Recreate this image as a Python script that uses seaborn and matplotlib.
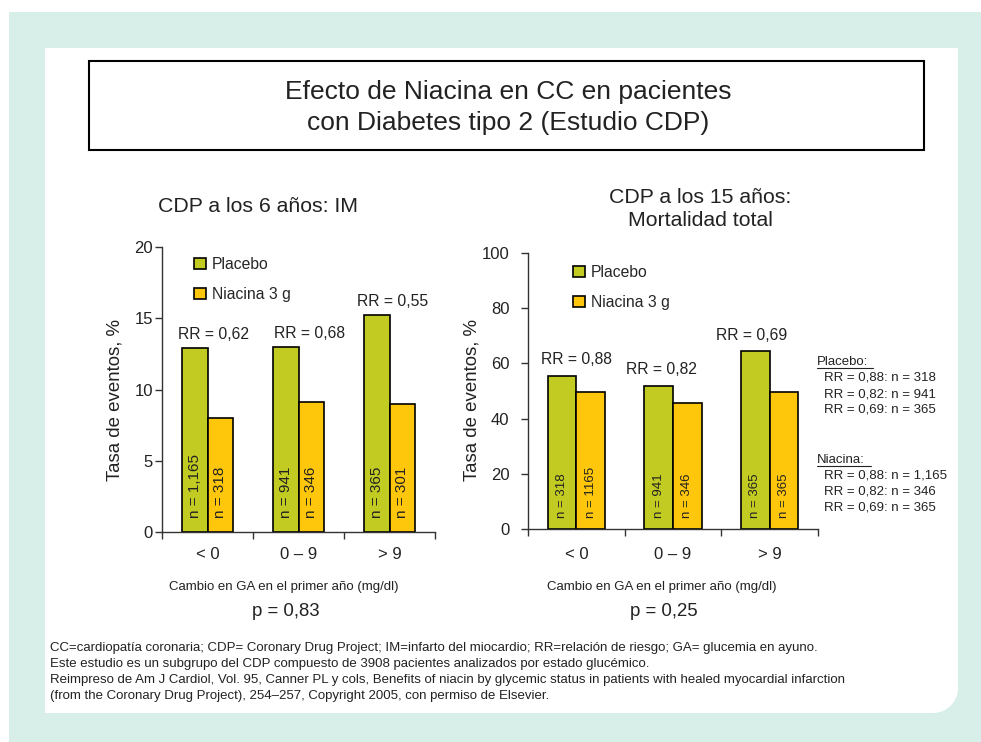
import numpy as np
import pandas as pd
import matplotlib.pyplot as plt
import seaborn as sns
from matplotlib.patches import Rectangle, Ellipse, Patch
from matplotlib.lines import Line2D

# data
cambio = ["< 0", "0 – 9", "> 9"]
grupos = ["Placebo", "Niacina 3 g"]

placebo_6 = [12.9, 13.0, 15.2]
niacina_6 = [8.0, 9.1, 9.0]
n_placebo_6 = ["n = 1,165", "n = 941", "n = 365"]
n_niacina_6 = ["n = 318", "n = 346", "n = 301"]
rr_6 = ["RR = 0,62", "RR = 0,68", "RR = 0,55"]

placebo_15 = [55.5, 51.9, 64.4]
niacina_15 = [49.5, 45.5, 49.5]
n_placebo_15 = ["n = 318", "n = 941", "n = 365"]
n_niacina_15 = ["n = 1165", "n = 346", "n = 365"]
rr_15 = ["RR = 0,88", "RR = 0,82", "RR = 0,69"]

notas_placebo = ["RR = 0,88: n = 318", "RR = 0,82: n = 941", "RR = 0,69: n = 365"]
notas_niacina = ["RR = 0,88: n = 1,165", "RR = 0,82: n = 346", "RR = 0,69: n = 365"]

pie = ["CC=cardiopatía coronaria; CDP= Coronary Drug Project; IM=infarto del miocardio; "
       "RR=relación de riesgo; GA= glucemia en ayuno.",
       "Este estudio es un subgrupo del CDP compuesto de 3908 pacientes analizados por estado glucémico.",
       "Reimpreso de Am J Cardiol, Vol. 95, Canner PL y cols, Benefits of niacin by glycemic status "
       "in patients with healed myocardial infarction",
       "(from the Coronary Drug Project), 254–257, Copyright 2005, con permiso de Elsevier."]

df6 = pd.DataFrame({"cambio": cambio * 2, "grupo": [grupos[0]] * 3 + [grupos[1]] * 3,
                    "tasa": placebo_6 + niacina_6})
df15 = pd.DataFrame({"cambio": cambio * 2, "grupo": [grupos[0]] * 3 + [grupos[1]] * 3,
                     "tasa": placebo_15 + niacina_15})

green = "#c2cb22"
yellow = "#fec70c"
teal = "#d8efe9"
ink = "#222222"

sns.set_style("ticks")
plt.rcParams["font.family"] = ["Liberation Sans", "DejaVu Sans"]

W, H = 981, 742
fig = plt.figure(figsize=(W / 100, H / 100), dpi=100)


def fx(x):
    return x / W


def fy(y):
    return 1 - y / H


def px_rect(x0, y0, x1, y1, **kw):
    return Rectangle((fx(x0), fy(y1)), (x1 - x0) / W, (y1 - y0) / H,
                     transform=fig.transFigure, **kw)


# page background
fig.patches.append(px_rect(9, 12, 981, 742, facecolor=teal, edgecolor="none", zorder=-10))
fig.patches.append(px_rect(45, 48, 958, 688, facecolor="white", edgecolor="none", zorder=-9))
fig.patches.append(px_rect(45, 48, 933, 713, facecolor="white", edgecolor="none", zorder=-9))
fig.patches.append(Ellipse((fx(933), fy(688)), 50 / W, 50 / H, transform=fig.transFigure,
                           facecolor="white", edgecolor="none", zorder=-9))
fig.patches.append(px_rect(89, 61, 924, 150, fill=False, edgecolor="black", lw=1.5))

fig.text(fx(508), fy(107.5), "Efecto de Niacina en CC en pacientes\ncon Diabetes tipo 2 (Estudio CDP)",
         ha="center", va="center", fontsize=19, color=ink, linespacing=1.32)

ax1 = fig.add_axes([fx(162), fy(532), 273 / W, 285 / H])
ax2 = fig.add_axes([fx(528), fy(529), 290 / W, 276 / H])

specs = [
    (ax1, df6, 0.565, 20, [0, 5, 10, 15, 20], n_placebo_6, n_niacina_6, 11, 10,
     rr_6, [4, 8, 2], 4.5, (0.117, 0.965), 1.5, 11),
    (ax2, df15, 0.59, 100, [0, 20, 40, 60, 80, 100], n_placebo_15, n_niacina_15, 9.5, 8,
     rr_15, [0, -8, -13], 6, (0.155, 0.957), 8.5, 13.3),
]

for (ax, df, bw, ymax, yt, n_pl, n_ni, nfs, noff,
     rr, rr_dx, rr_dy, leg_xy, ypad, xpad) in specs:
    sns.barplot(data=df, x="cambio", y="tasa", hue="grupo", palette=[green, yellow],
                saturation=1, width=bw, edgecolor="black", linewidth=1.2, ax=ax, legend=False)
    ax.set_facecolor("none")
    ax.set_xlim(-0.5, 2.5)
    ax.set_ylim(0, ymax)
    ax.set_yticks(yt)
    ax.set_xticks([-0.5, 0.5, 1.5, 2.5], labels=[""] * 4)
    ax.set_xticks([0, 1, 2], labels=cambio, minor=True)
    ax.tick_params(axis="x", which="minor", length=0, pad=xpad, labelsize=12, labelcolor=ink)
    ax.tick_params(axis="x", which="major", length=5, width=1, color="#333333")
    ax.tick_params(axis="y", length=5, width=1, color="#333333", pad=ypad,
                   labelsize=12, labelcolor=ink)
    ax.set_xlabel("")
    ax.set_ylabel("")
    sns.despine(ax=ax)
    for side in ["left", "bottom"]:
        ax.spines[side].set_color("#333333")
        ax.spines[side].set_linewidth(1)

    # n labels inside the bars
    for cont, labs in zip(ax.containers, [n_pl, n_ni]):
        for bar, lab in zip(cont, labs):
            ax.annotate(lab, xy=(bar.get_x() + bar.get_width() / 2, 0), xytext=(0, noff),
                        textcoords="offset points", rotation=90, ha="center", va="bottom",
                        fontsize=nfs, color=ink)

    # RR labels above the placebo bars
    for bar, lab, dx in zip(ax.containers[0], rr, rr_dx):
        ax.annotate(lab, xy=(bar.get_x() + bar.get_width(), bar.get_height()),
                    xytext=(dx, rr_dy), textcoords="offset points",
                    ha="center", va="bottom", fontsize=11.3, color=ink)

    handles = [Patch(facecolor=c, edgecolor="black", lw=1.2) for c in [green, yellow]]
    ax.legend(handles, grupos, loc="upper left", bbox_to_anchor=leg_xy, frameon=False,
              fontsize=11.3, handlelength=0.75, handleheight=0.75, handletextpad=0.4,
              labelspacing=0.95, borderpad=0, borderaxespad=0)

# axis titles and labels
fig.text(fx(258), fy(207), "CDP a los 6 años: IM", ha="center", va="center",
         fontsize=15.3, color=ink)
fig.text(fx(700), fy(209), "CDP a los 15 años:\nMortalidad total", ha="center", va="center",
         fontsize=15.3, color=ink, linespacing=1.3)
for x in [115, 472]:
    fig.text(fx(x), fy(400), "Tasa de eventos, %", rotation=90, ha="center", va="center",
             fontsize=13.4, color=ink)
for x, p in [(284, "p = 0,83"), (662, "p = 0,25")]:
    fig.text(fx(x), fy(587), "Cambio en GA en el primer año (mg/dl)", ha="center", va="center",
             fontsize=9.5, color=ink)
    fig.text(fx(x + 2), fy(611), p, ha="center", va="center", fontsize=13.4, color=ink)

# side notes
for title, lines, y0, ul in [("Placebo:", notas_placebo, 362, 873),
                             ("Niacina:", notas_niacina, 460, 871)]:
    fig.text(fx(817), fy(y0), title, ha="left", va="center", fontsize=9.5, color=ink)
    fig.lines.append(Line2D([fx(817), fx(ul)], [fy(y0 + 6), fy(y0 + 6)], color=ink, lw=0.8,
                            transform=fig.transFigure))
    for k, line in enumerate(lines):
        fig.text(fx(824), fy(y0 + 16 * (k + 1)), line, ha="left", va="center",
                 fontsize=9.5, color=ink)

# footnote
for k, line in enumerate(pie):
    fig.text(fx(50), fy(648 + 16 * k), line, ha="left", va="center", fontsize=9.5, color=ink)

fig.savefig("out.png", dpi=100)
